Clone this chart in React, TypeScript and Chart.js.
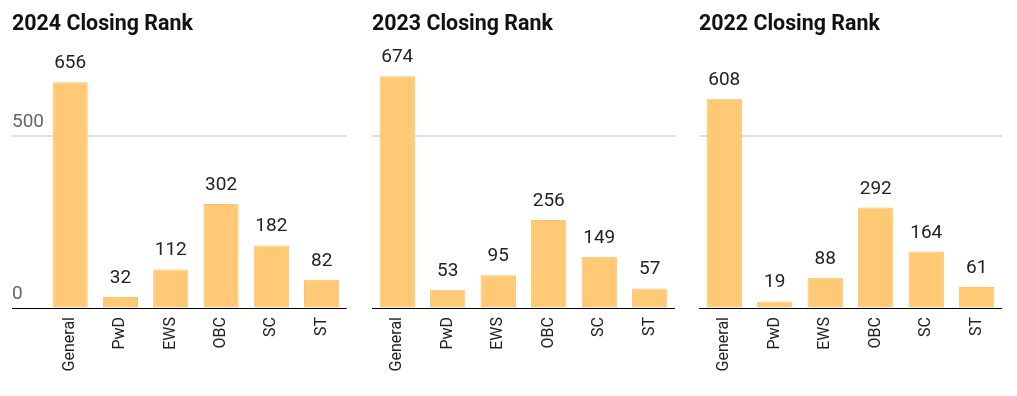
import React, { useEffect, useRef } from "react";
import { Chart, registerables } from "chart.js";

Chart.register(...registerables);

const categories = ["General", "PwD", "EWS", "OBC", "SC", "ST"];
const titles = ["2024 Closing Rank", "2023 Closing Rank", "2022 Closing Rank"];
const values2024 = [656, 32, 112, 302, 182, 82];
const values2023 = [674, 53, 95, 256, 149, 57];
const values2022 = [608, 19, 88, 292, 164, 61];
const yTicks = [0, 500];
const yMax = 750;

const FONT = "Roboto";
const BAR_FILL = "#FFC975";
const BAR_BORDER = "#FDC36A";

const dataLabelPlugin = {
  id: "dataLabels",
  afterDatasetsDraw(chart: any) {
    const ctx = chart.ctx;
    const meta = chart.getDatasetMeta(0);
    const data = chart.data.datasets[0].data;
    ctx.save();
    ctx.font = `19px ${FONT}`;
    ctx.fillStyle = "#222222";
    ctx.textAlign = "center";
    ctx.textBaseline = "alphabetic";
    meta.data.forEach((bar: any, i: number) => {
      ctx.fillText(String(data[i]), bar.x, bar.y - 14);
    });
    ctx.restore();
  },
};

type Spec = {
  title: string;
  values: number[];
  left: number;
  width: number;
  padLeft: number;
  padRight: number;
  showY: boolean;
};

const specs: Spec[] = [
  { title: titles[0], values: values2024, left: 0, width: 350, padLeft: 12, padRight: 2, showY: true },
  { title: titles[1], values: values2023, left: 350, width: 330, padLeft: 22, padRight: 5, showY: false },
  { title: titles[2], values: values2022, left: 680, width: 337, padLeft: 19, padRight: 15, showY: false },
];

function BarPanel({ spec }: { spec: Spec }) {
  const ref = useRef<HTMLCanvasElement | null>(null);
  useEffect(() => {
    if (!ref.current) return;
    const axisW = spec.showY ? 33 : 0;
    const chart = new Chart(ref.current, {
      type: "bar",
      data: {
        labels: categories,
        datasets: [
          {
            data: spec.values,
            backgroundColor: BAR_FILL,
            borderColor: BAR_BORDER,
            borderWidth: 1,
            barPercentage: 0.7,
            categoryPercentage: 1,
          },
        ],
      },
      options: {
        responsive: false,
        animation: false,
        layout: { padding: { left: spec.padLeft, right: spec.padRight, top: 0, bottom: 0 } },
        plugins: {
          legend: { display: false },
          tooltip: { enabled: false },
          title: {
            display: true,
            text: spec.title,
            align: "start",
            color: "#111111",
            font: { family: FONT, size: 21.4, weight: "bold", lineHeight: 1.2 },
            padding: { top: 12, bottom: 12.3 },
          },
        },
        scales: {
          x: {
            grid: { display: false, drawTicks: false },
            border: { display: false },
            ticks: {
              minRotation: 90,
              maxRotation: 90,
              padding: 9,
              color: "#222222",
              font: { family: FONT, size: 16 },
              autoSkip: false,
            },
            afterFit: (scale: any) => {
              scale.height = 88;
            },
          },
          y: {
            min: 0,
            max: yMax,
            border: { display: false },
            afterBuildTicks: (scale: any) => {
              scale.ticks = yTicks.map((v) => ({ value: v }));
            },
            afterFit: (scale: any) => {
              scale.width = axisW;
            },
            grid: {
              color: (c: any) => (c.tick && c.tick.value === 0 ? "#000000" : "#E0E0E0"),
              lineWidth: (c: any) => (c.tick && c.tick.value === 0 ? 1 : 2),
              drawTicks: spec.showY,
              tickLength: axisW,
            },
            ticks: {
              display: spec.showY,
              crossAlign: "far",
              labelOffset: -14,
              padding: 0,
              color: "#666666",
              font: { family: FONT, size: 19 },
            },
          },
        },
      },
      plugins: [dataLabelPlugin],
    } as any);
    return () => chart.destroy();
  }, [spec]);
  return (
    <canvas
      ref={ref}
      width={spec.width}
      height={396}
      style={{ position: "absolute", left: spec.left, top: 0, width: spec.width, height: 396 }}
    />
  );
}

export default function App() {
  return (
    <div style={{ position: "absolute", left: 0, top: 0, width: 1017, height: 396, background: "#ffffff", overflow: "hidden" }}>
      {specs.map((s) => (
        <BarPanel key={s.title} spec={s} />
      ))}
    </div>
  );
}
